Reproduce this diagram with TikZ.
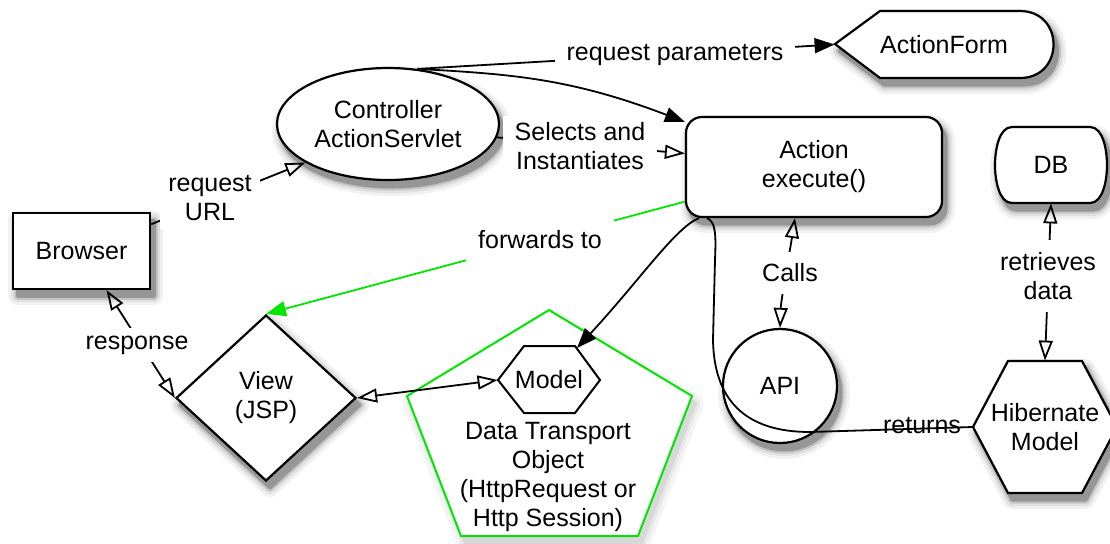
\documentclass[tikz,border=0pt]{standalone}
\usepackage{fontspec}
\setmainfont{Liberation Sans}
\usetikzlibrary{arrows.meta,shapes.geometric}
\definecolor{brightgreen}{RGB}{0,230,0}
\definecolor{shA}{RGB}{241,241,241}
\definecolor{shB}{RGB}{224,224,224}
\definecolor{shC}{RGB}{196,196,196}
\definecolor{shD}{RGB}{150,150,150}
\definecolor{shPA}{RGB}{244,244,244}
\definecolor{shPB}{RGB}{232,232,232}
\definecolor{shPC}{RGB}{216,216,216}
\tikzset{
  shp/.style={draw, line width=1.1pt, fill=white},
  pshp/.style={draw=brightgreen, line width=1pt, fill=white},
  shadowlayer/.style={draw=#1, fill=#1, line join=round},
  txt/.style={align=center, inner sep=0pt},
  lbl/.style={fill=white, align=center, inner sep=6pt},
  conn/.style={line width=0.9pt},
  fillarrow/.style={-{Triangle[length=10pt,width=7.5pt]}},
  openarrow/.style={-{Triangle[open,length=10pt,width=7pt]}},
  bothopen/.style={{Triangle[open,length=10pt,width=7pt]}-{Triangle[open,length=10pt,width=7pt]}},
}
\newcommand\myshadowoutlines[1]{%
  \path[#1] (13,213) rectangle (150,289);
  \path[#1] (388,124) ellipse [x radius=111, y radius=56];
  \path[#1, rounded corners=8pt] (686,117) rectangle (942,217);
  \path[#1] (266,315) -- (356,398) -- (266,481) -- (176,398) -- cycle;
  \path[#1] (780,386) circle [radius=57];
  \path[#1] (835,44) -- (880,11) -- (1020,11) .. controls (1064.7,11) and (1064.7,78) .. (1020,78) -- (880,78) -- cycle;
  \path[#1] (1012,127) -- (1090,127) .. controls (1103,127) and (1107,150) .. (1107,165)
    .. controls (1107,180) and (1103,203) .. (1090,203) -- (1012,203)
    .. controls (999,203) and (995,180) .. (995,165) .. controls (995,150) and (999,127) .. (1012,127) -- cycle;
  \path[#1] (1008,361) -- (1082,361) -- (1117,427) -- (1082,493) -- (1008,493) -- (973,427) -- cycle;
}
\newcommand\mypentoutline[1]{\path[#1] (549,310) -- (692,396) -- (638,536) -- (461,536) -- (407,396) -- cycle;}
\begin{document}
\begin{tikzpicture}[x=0.5pt, y=-0.5pt, font=\fontsize{12.5}{14.5}\selectfont]
\useasboundingbox (0,0) rectangle (1110,543);

% soft drop shadows (layers of grey, offset right and down)
\begin{scope}[shift={(4,7)}]
  \mypentoutline{shadowlayer=shPA, line width=8pt}
  \mypentoutline{shadowlayer=shPB, line width=4pt}
  \mypentoutline{shadowlayer=shPC, line width=1pt}
  \myshadowoutlines{shadowlayer=shA, line width=9pt}
  \myshadowoutlines{shadowlayer=shB, line width=6pt}
  \myshadowoutlines{shadowlayer=shC, line width=3.5pt}
  \myshadowoutlines{shadowlayer=shD, line width=1.5pt}
\end{scope}

% shapes
\node[shp, rectangle, minimum width=68.5pt, minimum height=38pt, txt] (browser) at (81.5,251) {Browser};
\node[shp, ellipse, minimum width=111pt, minimum height=56pt, txt] (ctrl) at (388,124) {Controller\\ActionServlet};
\node[shp, rectangle, rounded corners=8pt, minimum width=128pt, minimum height=50pt, txt] (action) at (814,167) {Action\\execute()};
\node[shp, diamond, minimum width=90pt, minimum height=83pt, txt] (view) at (266,398) {View\\(JSP)};
\node[shp, circle, minimum size=57pt, txt] (api) at (780,386) {API};

% ActionForm (display shape)
\path[shp] (835,44) -- (880,11) -- (1020,11) .. controls (1064.7,11) and (1064.7,78) .. (1020,78) -- (880,78) -- cycle;
\node[txt, minimum width=109pt, minimum height=33.5pt] (form) at (944,44.5) {ActionForm};

% DB
\path[shp] (1012,127) -- (1090,127) .. controls (1103,127) and (1107,150) .. (1107,165)
  .. controls (1107,180) and (1103,203) .. (1090,203) -- (1012,203)
  .. controls (999,203) and (995,180) .. (995,165) .. controls (995,150) and (999,127) .. (1012,127) -- cycle;
\node[txt, minimum width=56pt, minimum height=38pt] (db) at (1051,165) {DB};

% Data transport object pentagon
\path[pshp] (549,310) -- (692,396) -- (638,536) -- (461,536) -- (407,396) -- cycle;
\node[txt] (dto) at (548,477) {Data Transport\\Object\\(HttpRequest or\\Http Session)};

% Model hexagon
\path[draw, line width=1pt, fill=white] (498,380) -- (524,346) -- (575,346) -- (600,380) -- (575,413) -- (524,413) -- cycle;
\node[txt, minimum width=51pt, minimum height=33.5pt] (model) at (549,380) {Model};
\coordinate (modelNE) at (577,348);

% Hibernate hexagon
\path[shp] (1008,361) -- (1082,361) -- (1117,427) -- (1082,493) -- (1008,493) -- (973,427) -- cycle;
\node[txt, minimum width=72pt, minimum height=66pt] (hib) at (1045,427) {Hibernate\\Model};

% label under the returns line
\node[txt] (lret) at (922,426) {returns};

% connectors
\draw[conn, openarrow] (browser.21) -- (ctrl.205);
\draw[conn, fillarrow] (ctrl.62) -- (form.west);
\draw[conn, fillarrow] (ctrl.62) .. controls (510,74) and (570,78) .. ([yshift=-3pt]action.north west);
\draw[conn, openarrow] (ctrl.-7) -- (action.174);
\draw[conn, draw=brightgreen, fill=brightgreen, fillarrow] (action.195) -- (view.north);
\draw[conn, fillarrow] ([xshift=7pt]action.south west) .. controls (675,228) and (640,280) .. (modelNE);
\draw[conn] ([xshift=11pt]action.south west) .. controls (716,222) and (716,235) .. (715,260)
  -- (713,340) .. controls (714,400) and (745,432) .. (810,432) -- (hib.west);
\draw[conn, bothopen] ([xshift=-9.5pt]action.south) .. controls (790,250) and (781,300) .. (api.north);
\draw[conn, bothopen] (db.south) -- (hib.north);
\draw[conn, bothopen] ([xshift=12.5pt]browser.south) -- (view.west);
\draw[conn, bothopen] (view.east) -- (model.west);

% labels
\node[lbl, inner ysep=3pt] (lreqparam) at (675,55) {request parameters};
\node[lbl, inner sep=4pt] (lrequrl) at (210,198) {request\\URL};
\node[lbl, inner ysep=3pt] (lselect) at (580,146) {Selects and\\Instantiates};
\node[lbl] (lfwd) at (540,240) {forwards to};
\node[lbl] (lcalls) at (790,273) {Calls};
\node[lbl] (lretr) at (1048,276) {retrieves\\data};
\node[lbl, inner sep=4pt] (lresp) at (137,345) {response};
\end{tikzpicture}
\end{document}
